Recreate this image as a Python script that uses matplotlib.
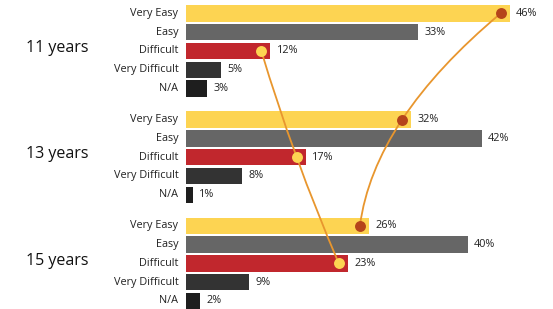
import matplotlib
matplotlib.use('Agg')
import matplotlib.pyplot as plt
from matplotlib.path import Path
from matplotlib.patches import PathPatch

groups = ['11 years', '13 years', '15 years']
categories = ['Very Easy', 'Easy', 'Difficult', 'Very Difficult', 'N/A']
values = {
    '11 years': [46, 33, 12, 5, 3],
    '13 years': [32, 42, 17, 8, 1],
    '15 years': [26, 40, 23, 9, 2],
}
bar_colors = ['#fdd452', '#666666', '#c1272d', '#333333', '#1e1e1e']

plt.rcParams['font.family'] = ['Open Sans', 'DejaVu Sans']

fig = plt.figure(figsize=(5.53, 3.09), dpi=100)
ax = fig.add_axes([186 / 553, 0, 352 / 553, 1])

group_step = 5.65
row_pos = []
for g, grp in enumerate(groups):
    pos = [g * group_step + i for i in range(len(categories))]
    row_pos.append(pos)
    ax.barh(pos, values[grp], height=0.87, color=bar_colors, zorder=1)
    for p, v, cat in zip(pos, values[grp], categories):
        ax.text(v + 0.9, p, f'{v}%', va='center', ha='left', fontsize=7.8, color='#222222')
        ax.text(-1.1, p, cat, va='center', ha='right', fontsize=7.8, color='#222222')
    ax.text(-18.3, pos[2] - 0.15, grp, va='center', ha='center', fontsize=11.5, color='#111111')


def connector(cat_idx, dot_color):
    # dots sit just inside the bar end, joined by a smooth curve
    pts = [(values[grp][cat_idx] - 1.3, row_pos[g][cat_idx]) for g, grp in enumerate(groups)]
    (x0, y0), (x1, y1), (x2, y2) = pts
    ctrl = (2 * x1 - (x0 + x2) / 2, 2 * y1 - (y0 + y2) / 2)
    path = Path([pts[0], ctrl, pts[2]], [Path.MOVETO, Path.CURVE3, Path.CURVE3])
    ax.add_patch(PathPatch(path, facecolor='none', edgecolor='#e8962e', lw=1.3, zorder=2))
    ax.scatter([p[0] for p in pts], [p[1] for p in pts], s=62, color=dot_color, zorder=3, linewidths=0)


connector(0, '#b5441b')
connector(2, '#fdd452')

ax.set_xlim(0, 50)
ax.set_ylim(15.73, -0.71)
ax.axis('off')

fig.savefig('out.png', dpi=100)
